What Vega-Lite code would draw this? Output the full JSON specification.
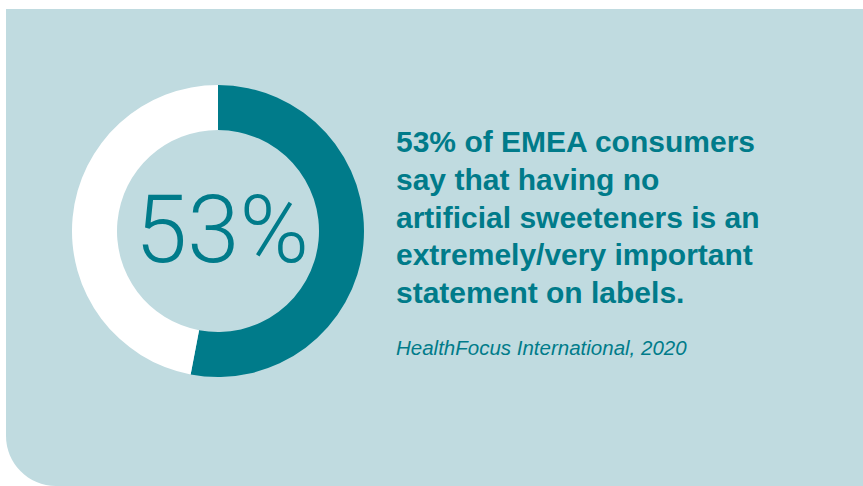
{
  "$schema": "https://vega.github.io/schema/vega-lite/v6.json",
  "width": 863,
  "height": 486,
  "autosize": {"type": "fit", "contains": "padding"},
  "padding": {"left": 6, "top": 9, "right": 0, "bottom": 0},
  "background": "white",
  "config": {"view": {"stroke": null}},
  "layer": [
    {
      "data": {"values": [{"panel": "background"}]},
      "mark": {"type": "rect", "color": "#c0dbe0", "cornerRadiusBottomLeft": 50},
      "encoding": {
        "x": {"value": 0},
        "x2": {"value": "width"},
        "y": {"value": 0},
        "y2": {"value": "height"}
      }
    },
    {
      "data": {"values": [
        {"answer": "Extremely/very important", "percent": 53, "idx": 1},
        {"answer": "Other", "percent": 47, "idx": 2}
      ]},
      "mark": {"type": "arc", "outerRadius": 146, "innerRadius": 101},
      "encoding": {
        "theta": {"field": "percent", "type": "quantitative", "stack": true},
        "order": {"field": "idx", "type": "quantitative"},
        "color": {
          "field": "answer",
          "type": "nominal",
          "scale": {"domain": ["Extremely/very important", "Other"], "range": ["#007b8a", "#ffffff"]},
          "legend": null
        },
        "x": {"value": 212},
        "y": {"value": 222}
      }
    },
    {
      "data": {"values": [{"label": "53%"}]},
      "mark": {"type": "text", "font": "Roboto", "fontWeight": 300, "fontSize": 94, "color": "#007b8a", "align": "center", "baseline": "alphabetic"},
      "encoding": {
        "text": {"field": "label"},
        "x": {"value": 216},
        "y": {"value": 253}
      }
    },
    {
      "data": {"values": [{"label": "headline"}]},
      "mark": {"type": "text", "font": "Liberation Sans", "fontWeight": "bold", "fontSize": 30, "color": "#007b8a", "align": "left", "baseline": "alphabetic", "lineHeight": 37.75},
      "encoding": {
        "text": {"value": ["53% of EMEA consumers", "say that having no", "artificial sweeteners is an", "extremely/very important", "statement on labels."]},
        "x": {"value": 390},
        "y": {"value": 143}
      }
    },
    {
      "data": {"values": [{"source": "HealthFocus International, 2020"}]},
      "mark": {"type": "text", "font": "Liberation Sans", "fontStyle": "italic", "fontSize": 20.5, "color": "#007b8a", "align": "left", "baseline": "alphabetic"},
      "encoding": {
        "text": {"field": "source"},
        "x": {"value": 390},
        "y": {"value": 346}
      }
    }
  ]
}
